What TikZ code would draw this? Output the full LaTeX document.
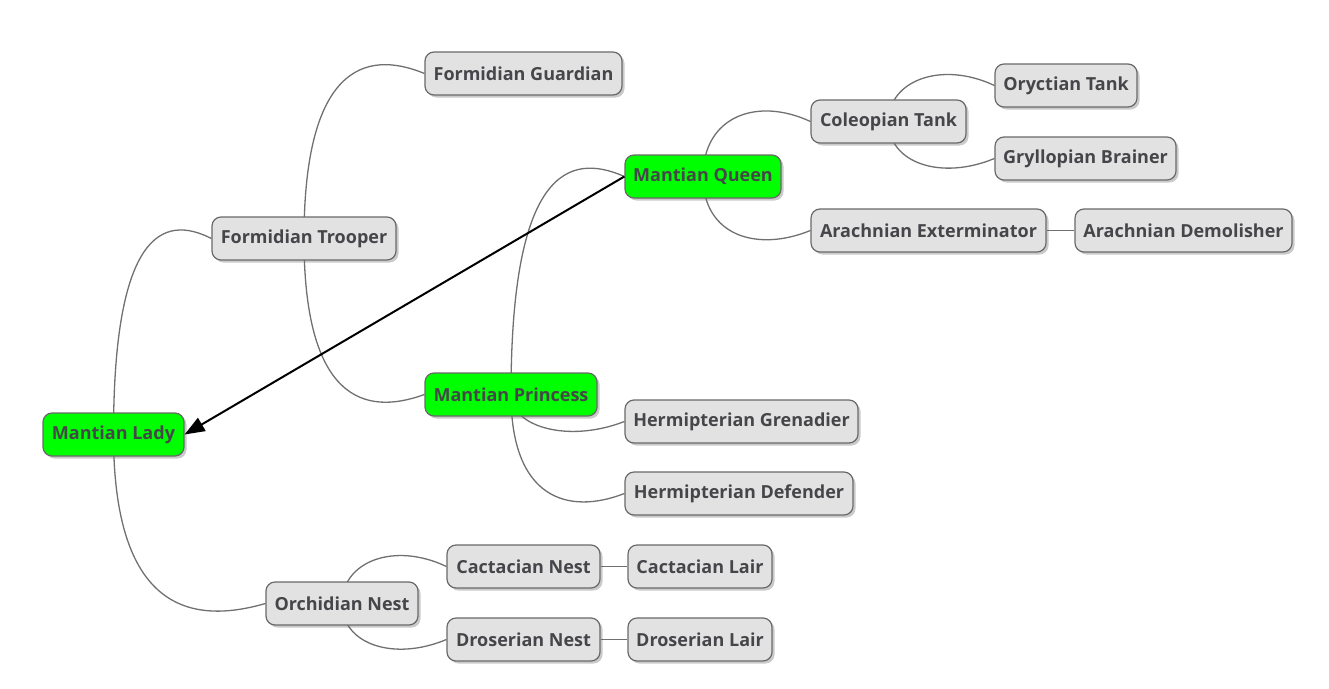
\documentclass[tikz,border=0pt]{standalone}
\usepackage{fontspec}
\setmainfont{Open Sans}
\usetikzlibrary{shadows,backgrounds,calc,arrows.meta}
\definecolor{boxfill}{RGB}{226,226,226}
\definecolor{boxline}{RGB}{105,105,105}
\definecolor{txt}{RGB}{70,70,74}
\definecolor{lime}{RGB}{0,255,0}
\definecolor{conncol}{RGB}{112,112,112}
\tikzset{
  box/.style={draw=boxline, line width=1.2pt, fill=boxfill, rounded corners=9pt,
    minimum height=43pt, inner xsep=8pt, text=txt,
    font=\fontsize{18}{20}\selectfont\bfseries,
    drop shadow={opacity=0.35, shadow xshift=2.5pt, shadow yshift=-2.5pt, fill=black!60}},
  hot/.style={box, fill=lime},
  conn/.style={draw=conncol, line width=1.3pt},
  branchup/.style={to path={.. controls ($(\tikztostart |- \tikztotarget)+(0,-5)$) and ($(\tikztostart |- \tikztotarget)!0.5!(\tikztotarget)+(0,-25)$) .. (\tikztotarget)}},
  branchdown/.style={to path={.. controls ($(\tikztostart |- \tikztotarget)+(0,5)$) and ($(\tikztostart |- \tikztotarget)!0.5!(\tikztotarget)+(0,22)$) .. (\tikztotarget)}},
}
\begin{document}
\begin{tikzpicture}[x=1pt,y=-1pt]
\useasboundingbox (0,0) rectangle (1329,688);
\node[hot, minimum width=141pt] (lady) at (113.5,434.5) {Mantian Lady};
\node[box, minimum width=184pt] (trooper) at (304,238.5) {Formidian Trooper};
\node[box, minimum width=197pt] (guardian) at (523.5,73.5) {Formidian Guardian};
\node[hot, minimum width=172pt] (princess) at (511,394.5) {Mantian Princess};
\node[hot, minimum width=156pt] (queen) at (703,176.5) {Mantian Queen};
\node[box, minimum width=155pt] (coleo) at (888.5,121.5) {Coleopian Tank};
\node[box, minimum width=142pt] (oryc) at (1066,85.5) {Oryctian Tank};
\node[box, minimum width=181pt] (gryl) at (1085.5,158.5) {Gryllopian Brainer};
\node[box, minimum width=235pt] (exterm) at (928.5,230.5) {Arachnian Exterminator};
\node[box, minimum width=217pt] (demol) at (1183.5,230.5) {Arachnian Demolisher};
\node[box, minimum width=233pt] (gren) at (741.5,421.5) {Hermipterian Grenadier};
\node[box, minimum width=228pt] (defend) at (739,493.5) {Hermipterian Defender};
\node[box, minimum width=152pt] (orchid) at (342,603.5) {Orchidian Nest};
\node[box, minimum width=153pt] (cactn) at (523.5,566.5) {Cactacian Nest};
\node[box, minimum width=144pt] (cactl) at (700,566.5) {Cactacian Lair};
\node[box, minimum width=153pt] (drosn) at (523.5,639.5) {Droserian Nest};
\node[box, minimum width=144pt] (drosl) at (700,639.5) {Droserian Lair};
\begin{scope}[on background layer]
\draw[conn] (lady.center) to[branchup] (trooper.west);
\draw[conn] (lady.center) to[branchdown] (orchid.west);
\draw[conn] (trooper.center) to[branchup] (guardian.west);
\draw[conn] (trooper.center) to[branchdown] (princess.west);
\draw[conn] (princess.center) to[branchup] (queen.west);
\draw[conn] (princess.center) to[branchdown] (gren.west);
\draw[conn] (princess.center) to[branchdown] (defend.west);
\draw[conn] (queen.center) to[branchup] (coleo.west);
\draw[conn] (queen.center) to[branchdown] (exterm.west);
\draw[conn] (coleo.center) to[branchup] (oryc.west);
\draw[conn] (coleo.center) to[branchdown] (gryl.west);
\draw[conn] (exterm.east) -- (demol.west);
\draw[conn] (orchid.center) to[branchup] (cactn.west);
\draw[conn] (orchid.center) to[branchdown] (drosn.west);
\draw[conn] (cactn.east) -- (cactl.west);
\draw[conn] (drosn.east) -- (drosl.west);
\end{scope}
\draw[line width=2pt, -{Triangle[length=20pt,width=15pt]}] (queen.west) -- (lady.east);
\end{tikzpicture}
\end{document}
